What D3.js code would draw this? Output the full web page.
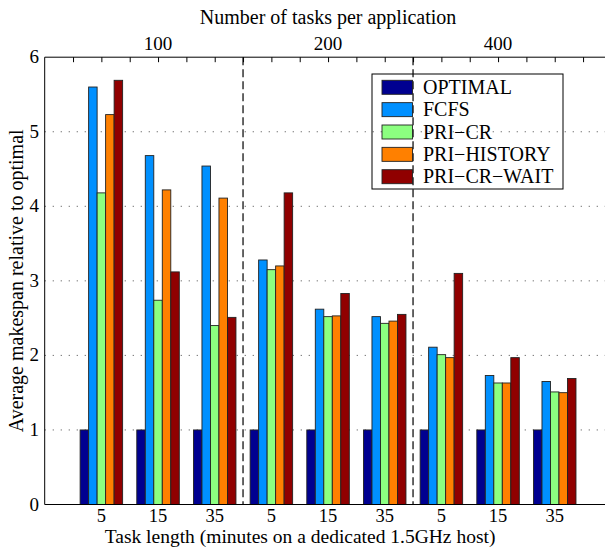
<!DOCTYPE html>
<html><head><meta charset="utf-8">
<script src="https://cdn.jsdelivr.net/npm/d3@7"></script>
<style>body{margin:0;background:#fff}svg{display:block;font-family:"Liberation Serif","Times New Roman",serif}</style>
</head><body><svg id="c" width="605" height="548"></svg>
<script>
const groups = ["5","15","35","5","15","35","5","15","35"];
const series = ["OPTIMAL","FCFS","PRI\u2212CR","PRI\u2212HISTORY","PRI\u2212CR\u2212WAIT"];
const colors = ["#000090","#0090FF","#8CFF80","#FF8000","#900000"];
const optimal   = [1,1,1,1,1,1,1,1,1];
const fcfs      = [5.60,4.68,4.54,3.28,2.62,2.52,2.11,1.73,1.65];
const priCr     = [4.18,2.74,2.40,3.15,2.52,2.43,2.01,1.63,1.51];
const priHist   = [5.23,4.22,4.11,3.20,2.53,2.46,1.97,1.63,1.50];
const priCrWait = [5.69,3.12,2.51,4.18,2.83,2.55,3.10,1.97,1.69];
const values = [optimal,fcfs,priCr,priHist,priCrWait];
const topLabels = [{pos:2,text:"100"},{pos:5,text:"200"},{pos:8,text:"400"}];
const separators = [3.5,6.5];
const yTicks = [0,1,2,3,4,5,6];

const svg = d3.select("#c");
const L=44.7, R=611.4, T=57.2, B=504.5;
const x = d3.scaleLinear().domain([0,10]).range([L,R]);
const y = d3.scaleLinear().domain([0,6]).range([B,T]);
const sub = d3.scaleBand().domain(series).range([-0.375,0.375]);

// grid
svg.append("g").selectAll("line").data([1,2,3,4,5]).join("line")
  .attr("x1",L).attr("x2",605).attr("y1",d=>y(d)).attr("y2",d=>y(d))
  .attr("stroke","#666").attr("stroke-width",1).attr("stroke-dasharray","1.2,6.8");

// separators
svg.append("g").selectAll("line").data(separators).join("line")
  .attr("x1",d=>x(d)).attr("x2",d=>x(d)).attr("y1",T).attr("y2",B)
  .attr("stroke","#555").attr("stroke-width",1.8).attr("stroke-dasharray","8,4");

// bars
const bars = svg.append("g");
series.forEach((s,si)=>{
  bars.append("g").selectAll("rect").data(values[si]).join("rect")
    .attr("x",(d,i)=>x(i+1+sub(s)))
    .attr("width",x(sub.bandwidth())-x(0))
    .attr("y",d=>y(d)).attr("height",d=>y(0)-y(d))
    .attr("fill",colors[si]).attr("stroke","#222").attr("stroke-width",0.9);
});

// axes
const topAxis = d3.axisTop(x).tickValues(d3.range(0.5,10,0.5)).tickSize(-5).tickFormat("");
const gT = svg.append("g").attr("transform",`translate(0,${T})`).call(topAxis);
gT.select(".domain").remove();
gT.selectAll("line").attr("stroke","#000");
svg.append("line").attr("x1",L).attr("x2",605).attr("y1",T).attr("y2",T).attr("stroke","#000");
svg.append("line").attr("x1",L).attr("x2",605).attr("y1",B).attr("y2",B).attr("stroke","#000").attr("stroke-width",1.2);
svg.append("line").attr("x1",L).attr("x2",L).attr("y1",T).attr("y2",B).attr("stroke","#000");

// bottom labels
svg.append("g").selectAll("text").data(groups).join("text")
  .attr("x",(d,i)=>x(i+1)).attr("y",522).attr("text-anchor","middle")
  .attr("font-size",18.5).text(d=>d);
// top labels
svg.append("g").selectAll("text").data(topLabels).join("text")
  .attr("x",d=>x(d.pos)).attr("y",50).attr("text-anchor","middle")
  .attr("font-size",19).text(d=>d.text);
// y labels
svg.append("g").selectAll("text").data(yTicks).join("text")
  .attr("x",39).attr("y",d=>y(d)+6).attr("text-anchor","end")
  .attr("font-size",19).text(d=>d);

svg.append("text").attr("x",x(5)-28).attr("y",24).attr("text-anchor","middle").attr("font-size",20)
  .attr("x",x(5)).text("Number of tasks per application");
svg.append("text").attr("x",x(5)-28).attr("y",543).attr("text-anchor","middle").attr("font-size",19.5)
  .text("Task length (minutes on a dedicated 1.5GHz host)");
svg.append("text").attr("transform",`translate(23,${(T+B)/2}) rotate(-90)`).attr("text-anchor","middle").attr("font-size",20)
  .text("Average makespan relative to optimal");

// legend
const lg = svg.append("g");
lg.append("rect").attr("x",372).attr("y",74).attr("width",191).attr("height",115)
  .attr("fill","none").attr("stroke","#000").attr("stroke-width",1);
series.forEach((s,i)=>{
  const cy = 87.3 + i*22.35;
  lg.append("rect").attr("x",382).attr("y",cy-7).attr("width",30.5).attr("height",14)
    .attr("fill",colors[i]).attr("stroke","#222").attr("stroke-width",0.9);
  lg.append("text").attr("x",423).attr("y",cy+6.5).attr("font-size",20).text(s);
});
</script></body></html>
